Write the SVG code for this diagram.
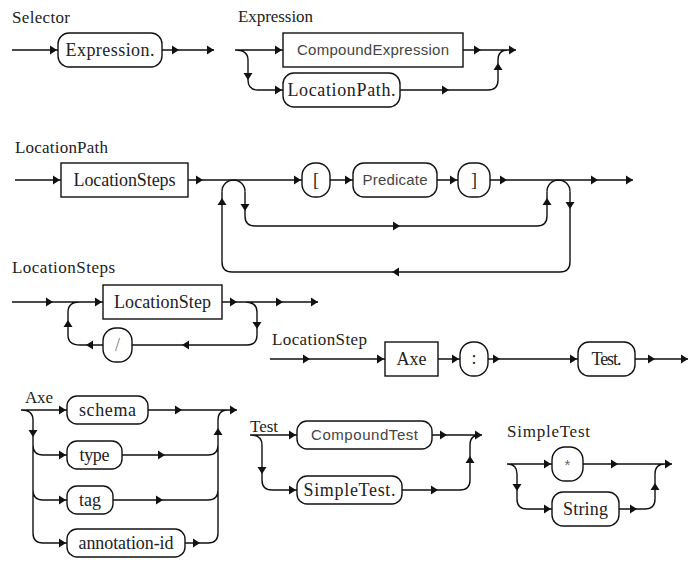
<svg xmlns="http://www.w3.org/2000/svg" xmlns:xlink="http://www.w3.org/1999/xlink" width="695" height="562" viewBox="0 0 695 562">
<style>
.ln{fill:none;stroke:#111;stroke-width:1.4}
.bx{fill:#fff;stroke:#111;stroke-width:1.4}
.t{font-size:18px;fill:#222;text-anchor:middle}
.s{font-size:15px;fill:#444;text-anchor:middle}
.lb{font-size:17px;fill:#222}
.ah{fill:#111}
</style>
<defs>
<path id="aR" class="ah" d="M0,0 L-7,-4.5 L-7,4.5Z"/>
<path id="aL" class="ah" d="M0,0 L7,-4.5 L7,4.5Z"/>
<path id="aU" class="ah" d="M0,0 L-4.5,7 L4.5,7Z"/>
<path id="aD" class="ah" d="M0,0 L-4.5,-7 L4.5,-7Z"/>
</defs>
<rect width="695" height="562" fill="#fff"/>
<g id="titles" font-family="Liberation Serif, DejaVu Serif, serif">
<text class="lb" x="12" y="23" textLength="58">Selector</text>
<text class="lb" x="238" y="22" textLength="75">Expression</text>
<text class="lb" x="15" y="153" textLength="93">LocationPath</text>
<text class="lb" x="12" y="273" textLength="103">LocationSteps</text>
<text class="lb" x="272" y="345" textLength="95">LocationStep</text>
<text class="lb" x="25" y="403" textLength="28">Axe</text>
<text class="lb" x="250" y="432" textLength="28">Test</text>
<text class="lb" x="507" y="437" textLength="83">SimpleTest</text>
</g>
<g id="connectors">
<path class="ln" d="M12,50 H58 M162,50 H214"/>
<path class="ln" d="M235,50 H283 M235,50 Q248,50 248,60 V80 Q248,90 258,90 H283 M463,50 H516 M400,90 H488 Q498,90 498,80 V60 Q498,50 508,50"/>
<path class="ln" d="M15,180 H61 M188,180 H302 M330,180 H353 M437,180 H458 M490,180 H633"/>
<path class="ln" d="M222,191.5 A11.5,11.5 0 0 1 245,191.5 M547,191.5 A11.5,11.5 0 0 1 570,191.5"/>
<path class="ln" d="M222,191.5 V262 Q222,272 232,272 H560 Q570,272 570,262 V191.5"/>
<path class="ln" d="M245,191.5 V216 Q245,226 255,226 H537 Q547,226 547,216 V191.5"/>
<path class="ln" d="M12,302 H103 M222,302 H318 M245,302 Q257,302 257,312 V335 Q257,345 247,345 H132 M103,345 H80 Q68,345 68,335 V312 Q68,302 80,302"/>
<path class="ln" d="M270,359 H385 M438,359 H460 M488,359 H578 M635,359 H688"/>
<path class="ln" d="M21,410 H67 M21,410 Q33,410 33,420 V533 Q33,543 43,543 H67 M33,445 Q33,455 43,455 H67 M33,490 Q33,500 43,500 H67 M148,410 H237 M122,455 H208 Q218,455 218,445 V420 Q218,410 228,410 M113,500 H208 Q218,500 218,490 M185,543 H208 Q218,543 218,533 V445"/>
<path class="ln" d="M250,435 H297 M250,435 Q262,435 262,445 V480 Q262,490 272,490 H297 M432,435 H482 M402,490 H460 Q470,490 470,480 V445 Q470,435 480,435"/>
<path class="ln" d="M507,464 H552 M507,464 Q517,464 517,474 V499 Q517,509 527,509 H552 M583,464 H672 M619,509 H645 Q655,509 655,499 V474 Q655,464 665,464"/>
<use href="#aR" x="57" y="50"/><use href="#aR" x="179" y="50"/><use href="#aR" x="214" y="50"/>
<use href="#aR" x="282" y="50"/><use href="#aD" x="248" y="80"/><use href="#aR" x="282" y="90"/><use href="#aR" x="481" y="50"/><use href="#aR" x="516" y="50"/><use href="#aR" x="449" y="90"/><use href="#aU" x="498" y="63"/>
<use href="#aR" x="60" y="180"/><use href="#aR" x="203" y="180"/><use href="#aR" x="301" y="180"/><use href="#aR" x="352" y="180"/><use href="#aR" x="457" y="180"/><use href="#aR" x="507" y="180"/><use href="#aR" x="598" y="180"/><use href="#aR" x="633" y="180"/>
<use href="#aU" x="222" y="198"/><use href="#aD" x="245" y="211"/><use href="#aR" x="400" y="226"/><use href="#aU" x="547" y="198"/><use href="#aD" x="570" y="209"/><use href="#aL" x="392" y="272"/>
<use href="#aR" x="53" y="302"/><use href="#aR" x="102" y="302"/><use href="#aR" x="237" y="302"/><use href="#aR" x="283" y="302"/><use href="#aR" x="318" y="302"/><use href="#aD" x="257" y="329"/><use href="#aL" x="182" y="345"/><use href="#aL" x="86" y="345"/><use href="#aU" x="68" y="320"/>
<use href="#aR" x="310" y="359"/><use href="#aR" x="384" y="359"/><use href="#aR" x="459" y="359"/><use href="#aR" x="500" y="359"/><use href="#aR" x="577" y="359"/><use href="#aR" x="655" y="359"/><use href="#aR" x="688" y="359"/>
<use href="#aR" x="66" y="410"/><use href="#aD" x="33" y="437"/><use href="#aR" x="66" y="455"/><use href="#aR" x="66" y="500"/><use href="#aR" x="66" y="543"/><use href="#aR" x="182" y="410"/><use href="#aR" x="237" y="410"/><use href="#aR" x="165" y="455"/><use href="#aR" x="163" y="500"/><use href="#aR" x="200" y="543"/><use href="#aU" x="218" y="428"/>
<use href="#aR" x="296" y="435"/><use href="#aD" x="262" y="474"/><use href="#aR" x="296" y="490"/><use href="#aR" x="447" y="435"/><use href="#aR" x="482" y="435"/><use href="#aR" x="438" y="490"/><use href="#aU" x="470" y="456"/>
<use href="#aR" x="551" y="464"/><use href="#aD" x="517" y="491"/><use href="#aR" x="551" y="509"/><use href="#aR" x="618" y="464"/><use href="#aR" x="672" y="464"/><use href="#aR" x="637" y="509"/><use href="#aU" x="655" y="483"/>
</g>
<g id="nodes" font-family="Liberation Serif, DejaVu Serif, serif">
<g id="sel-expression"><rect class="bx" x="58" y="33" width="104" height="34" rx="11"/><text class="t" x="110" y="56" textLength="89">Expression.</text></g>
<g id="compound-expression" font-family="Liberation Sans, Arial, sans-serif"><rect class="bx" x="283" y="33" width="180" height="34"/><text class="s" x="373" y="55" textLength="152">CompoundExpression</text></g>
<g id="location-path-ref"><rect class="bx" x="283" y="73" width="117" height="34" rx="11"/><text class="t" x="341.5" y="96" textLength="108">LocationPath.</text></g>
<g id="location-steps-ref"><rect class="bx" x="61" y="163" width="127" height="34"/><text class="t" x="124.5" y="186" textLength="102">LocationSteps</text></g>
<g id="lbracket"><rect class="bx" x="302" y="163" width="28" height="34" rx="13"/><text class="t" x="316" y="186">[</text></g>
<g id="predicate" font-family="Liberation Sans, Arial, sans-serif"><rect class="bx" x="353" y="163" width="84" height="34" rx="11"/><text class="s" x="395" y="185" textLength="65">Predicate</text></g>
<g id="rbracket"><rect class="bx" x="458" y="163" width="32" height="34" rx="13"/><text class="t" x="474" y="186">]</text></g>
<g id="location-step-ref"><rect class="bx" x="103" y="285" width="119" height="34"/><text class="t" x="162.5" y="308" textLength="97">LocationStep</text></g>
<g id="slash"><rect class="bx" x="103" y="328" width="29" height="34" rx="13"/><text class="t" x="117.5" y="351" style="fill:#777">/</text></g>
<g id="axe-ref"><rect class="bx" x="385" y="342" width="53" height="34"/><text class="t" x="411.5" y="365" textLength="30">Axe</text></g>
<g id="colon"><rect class="bx" x="460" y="342" width="28" height="34" rx="13"/><text class="t" x="474" y="364">:</text></g>
<g id="test-ref"><rect class="bx" x="578" y="342" width="57" height="34" rx="11"/><text class="t" x="606.5" y="365" textLength="30">Test.</text></g>
<g id="schema"><rect class="bx" x="67" y="396" width="81" height="28" rx="10"/><text class="t" x="107.5" y="416" textLength="57">schema</text></g>
<g id="type"><rect class="bx" x="67" y="441" width="55" height="28" rx="10"/><text class="t" x="94.5" y="461" textLength="30">type</text></g>
<g id="tag"><rect class="bx" x="67" y="486" width="46" height="28" rx="10"/><text class="t" x="90" y="506" textLength="22">tag</text></g>
<g id="annotation-id"><rect class="bx" x="67" y="529" width="118" height="28" rx="10"/><text class="t" x="126" y="549" textLength="95">annotation-id</text></g>
<g id="compound-test" font-family="Liberation Sans, Arial, sans-serif"><rect class="bx" x="297" y="421" width="135" height="28" rx="10"/><text class="s" x="364.5" y="440" textLength="107">CompoundTest</text></g>
<g id="simple-test-ref"><rect class="bx" x="297" y="476" width="105" height="28" rx="10"/><text class="t" x="349.5" y="496" textLength="92">SimpleTest.</text></g>
<g id="star" font-family="Liberation Sans, Arial, sans-serif"><rect class="bx" x="552" y="447" width="31" height="34" rx="13"/><text class="s" x="567.5" y="470" style="fill:#666">*</text></g>
<g id="string"><rect class="bx" x="552" y="492" width="67" height="34" rx="11"/><text class="t" x="585.5" y="515" textLength="45">String</text></g>
</g>
</svg>
